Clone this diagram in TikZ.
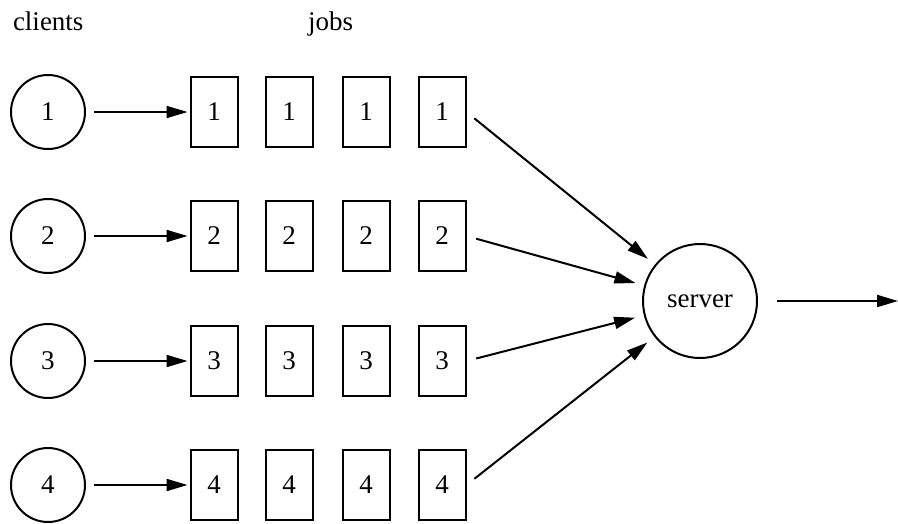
\documentclass[tikz,border=0pt]{standalone}
\usepackage{fontspec}
\setmainfont{Liberation Serif}
\usetikzlibrary{arrows.meta}
\begin{document}
\begin{tikzpicture}[x=1pt,y=-1pt,
  line width=2pt,
  every node/.style={font=\fontsize{27}{30}\selectfont},
  client/.style={draw,circle,minimum size=74pt,inner sep=0pt},
  job/.style={draw,rectangle,minimum width=47pt,minimum height=70pt,inner sep=0pt},
  srv/.style={draw,circle,minimum size=114pt,inner sep=0pt},
  flow/.style={-{Triangle[length=21pt,width=12pt]}},
  lbl/.style={anchor=base west,inner sep=0pt}]
\useasboundingbox (0,0) rectangle (898,523);
\node[lbl] (tc) at (12,30) {clients};
\node[lbl] (tj) at (307,30) {jobs};
\node[srv] (S) at (700,301) {server};
\coordinate (out) at (898,301);
\foreach \r/\y in {1/112,2/236,3/361,4/485}{
  \node[client] (c\r) at (48,\y) {\r};
  \node[job] (j\r a) at (214,\y) {\r};
  \node[job] (j\r b) at (289,\y) {\r};
  \node[job] (j\r c) at (366,\y) {\r};
  \node[job] (j\r d) at (442,\y) {\r};
  \draw[flow,shorten <=8pt,shorten >=2pt] (c\r) -- (j\r a);
  \draw[flow,shorten <=10pt,shorten >=9pt] (j\r d.east) -- (S);
}
\draw[flow,shorten <=19pt] (S) -- (out);
\end{tikzpicture}
\end{document}
